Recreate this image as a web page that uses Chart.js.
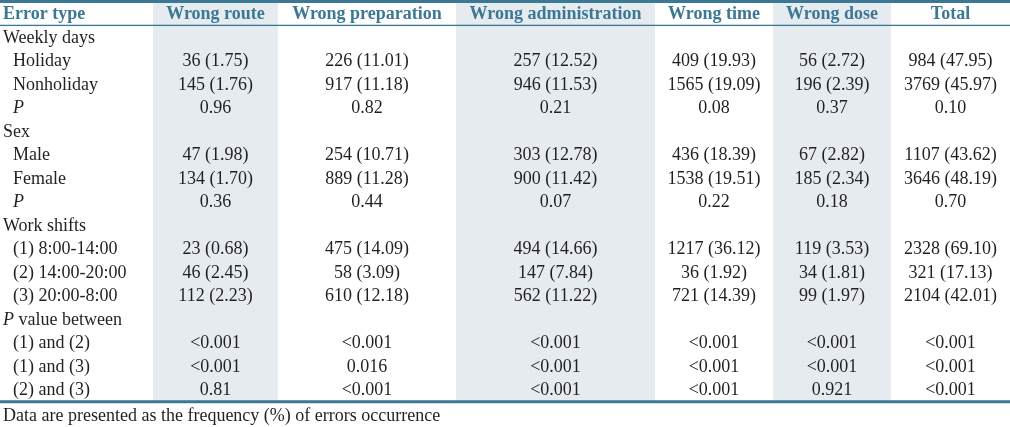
<!DOCTYPE html>
<html>
<head>
<meta charset="utf-8">
<script src="https://cdn.jsdelivr.net/npm/chart.js@4"></script>
<style>
  html, body { margin: 0; padding: 0; background: #fff; }
  #wrap { width: 1010px; height: 427px; }
</style>
</head>
<body>
<div id="wrap"><canvas id="tableChart" width="1010" height="427"></canvas></div>
<script>
const columns = ['Error type', 'Wrong route', 'Wrong preparation', 'Wrong administration', 'Wrong time', 'Wrong dose', 'Total'];
const rowLabels = ['Weekly days', 'Holiday', 'Nonholiday', 'P', 'Sex', 'Male', 'Female', 'P',
  'Work shifts', '(1) 8:00-14:00', '(2) 14:00-20:00', '(3) 20:00-8:00',
  'P value between', '(1) and (2)', '(1) and (3)', '(2) and (3)'];

const wrongRoute = ['', '36 (1.75)', '145 (1.76)', '0.96', '', '47 (1.98)', '134 (1.70)', '0.36',
  '', '23 (0.68)', '46 (2.45)', '112 (2.23)', '', '<0.001', '<0.001', '0.81'];
const wrongPreparation = ['', '226 (11.01)', '917 (11.18)', '0.82', '', '254 (10.71)', '889 (11.28)', '0.44',
  '', '475 (14.09)', '58 (3.09)', '610 (12.18)', '', '<0.001', '0.016', '<0.001'];
const wrongAdministration = ['', '257 (12.52)', '946 (11.53)', '0.21', '', '303 (12.78)', '900 (11.42)', '0.07',
  '', '494 (14.66)', '147 (7.84)', '562 (11.22)', '', '<0.001', '<0.001', '<0.001'];
const wrongTime = ['', '409 (19.93)', '1565 (19.09)', '0.08', '', '436 (18.39)', '1538 (19.51)', '0.22',
  '', '1217 (36.12)', '36 (1.92)', '721 (14.39)', '', '<0.001', '<0.001', '<0.001'];
const wrongDose = ['', '56 (2.72)', '196 (2.39)', '0.37', '', '67 (2.82)', '185 (2.34)', '0.18',
  '', '119 (3.53)', '34 (1.81)', '99 (1.97)', '', '<0.001', '<0.001', '0.921'];
const total = ['', '984 (47.95)', '3769 (45.97)', '0.10', '', '1107 (43.62)', '3646 (48.19)', '0.70',
  '', '2328 (69.10)', '321 (17.13)', '2104 (42.01)', '', '<0.001', '<0.001', '<0.001'];

const footnote = 'Data are presented as the frequency (%) of errors occurrence';

// layout (not data): column edges on the x scale, shaded columns
const colEdges = [0, 153, 278, 456, 655, 773, 891, 1010];
const shaded = [1, 3, 5];
const valueCols = [wrongRoute, wrongPreparation, wrongAdministration, wrongTime, wrongDose, total];

const TEAL = '#3b7893';
const SHADE = '#e6ebf0';
const INK = '#231f20';
const FONT = '"Liberation Serif", "Times New Roman", serif';
const SIZE = 18;

function drawLabel(ctx, label, x, y) {
  // italic P for the P-value rows
  if (label === 'P' || label.startsWith('P value')) {
    ctx.font = 'italic ' + SIZE + 'px ' + FONT;
    ctx.fillText('P', x, y);
    const w = ctx.measureText('P').width;
    ctx.font = SIZE + 'px ' + FONT;
    ctx.fillText(label.slice(1), x + w, y);
  } else {
    ctx.font = SIZE + 'px ' + FONT;
    ctx.fillText(label, x, y);
  }
}

const tablePlugin = {
  id: 'table',
  beforeDatasetsDraw(chart) {
    const { ctx } = chart;
    const xs = chart.scales.x, ys = chart.scales.y;
    const top = 3;
    const bottom = ys.getPixelForValue(rowLabels.length - 0.5);

    ctx.save();
    // shaded column bands
    ctx.fillStyle = SHADE;
    shaded.forEach(c => {
      const x0 = xs.getPixelForValue(colEdges[c]);
      const x1 = xs.getPixelForValue(colEdges[c + 1]);
      ctx.fillRect(x0, top, x1 - x0, bottom - top);
    });

    // rules
    ctx.fillStyle = TEAL;
    ctx.fillRect(0, 0, chart.width, top);
    ctx.fillRect(0, ys.getPixelForValue(-0.5) - 0.5, chart.width, 1.3);
    ctx.fillRect(0, bottom - 1, chart.width, 3);

    // header
    ctx.textBaseline = 'middle';
    ctx.font = 'bold ' + SIZE + 'px ' + FONT;
    const hy = ys.getPixelForValue(-1) + 0.5;
    columns.forEach((name, c) => {
      if (c === 0) {
        ctx.textAlign = 'left';
        ctx.fillText(name, xs.getPixelForValue(3), hy);
      } else {
        ctx.textAlign = 'center';
        ctx.fillText(name, xs.getPixelForValue((colEdges[c] + colEdges[c + 1]) / 2), hy);
      }
    });

    // body
    ctx.fillStyle = INK;
    rowLabels.forEach((label, r) => {
      const y = ys.getPixelForValue(r) + 1;
      const isSection = valueCols.every(col => col[r] === '');
      ctx.textAlign = 'left';
      drawLabel(ctx, label, xs.getPixelForValue(isSection ? 3 : 13), y);
      ctx.font = SIZE + 'px ' + FONT;
      ctx.textAlign = 'center';
      valueCols.forEach((col, i) => {
        const c = i + 1;
        ctx.fillText(col[r], xs.getPixelForValue((colEdges[c] + colEdges[c + 1]) / 2), y);
      });
    });

    // footnote
    ctx.textAlign = 'left';
    ctx.font = SIZE + 'px ' + FONT;
    ctx.fillText(footnote, xs.getPixelForValue(3), ys.getPixelForValue(rowLabels.length + 0.15));
    ctx.restore();
  }
};

new Chart(document.getElementById('tableChart'), {
  type: 'scatter',
  data: { datasets: [{ data: [] }] },
  options: {
    responsive: false,
    animation: false,
    layout: { padding: 0 },
    plugins: { legend: { display: false }, tooltip: { enabled: false } },
    scales: {
      x: { type: 'linear', display: false, min: 0, max: 1010 },
      y: { type: 'linear', display: false, reverse: true, min: -1.574, max: 16.596 }
    }
  },
  plugins: [tablePlugin]
});
</script>
</body>
</html>
